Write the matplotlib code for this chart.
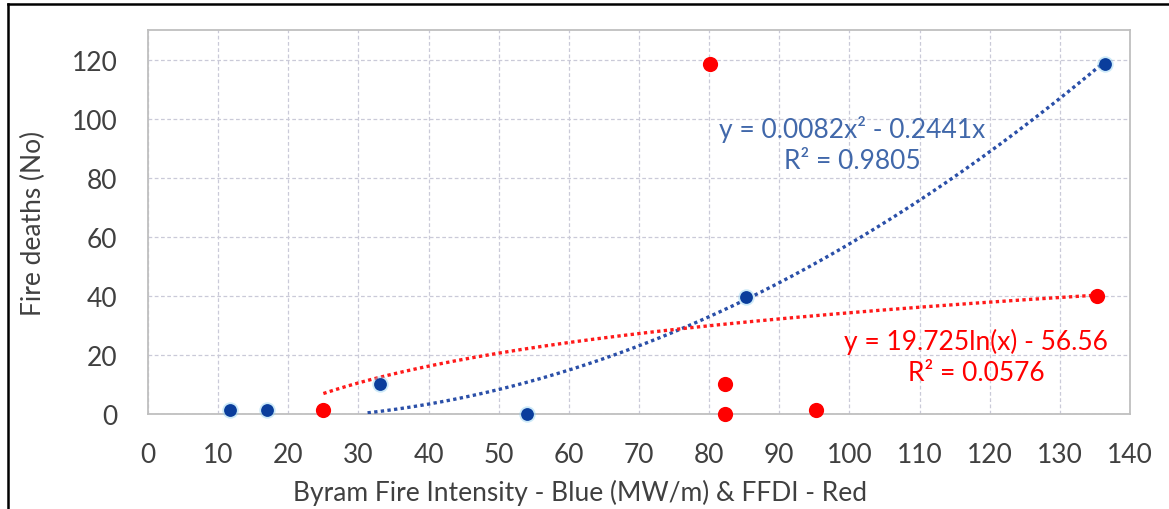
import numpy as np
import matplotlib
matplotlib.use("Agg")
import matplotlib.pyplot as plt
from matplotlib.lines import Line2D

# ---- data ----
blue_x = [11.7, 16.9, 33.1, 54.1, 85.3, 136.4]
blue_y = [1.4, 1.4, 10.2, 0.0, 39.7, 118.6]
red_x = [25.0, 80.1, 82.3, 82.3, 95.3, 135.3]
red_y = [1.4, 118.6, 10.2, 0.0, 1.4, 40.0]

# trendline coefficients as printed on the chart
poly_a, poly_b = 0.0082, -0.2441
log_a, log_b = 19.725, -56.56

blue_eq = "y = 0.0082x² - 0.2441x\nR² = 0.9805"
red_eq = "y = 19.725ln(x) - 56.56\nR² = 0.0576"

x_ticks = list(range(0, 141, 10))
y_ticks = list(range(0, 121, 20))
x_label = "Byram Fire Intensity - Blue (MW/m) & FFDI - Red"
y_label = "Fire deaths (No)"

plt.rcParams['font.family'] = ['Lato', 'DejaVu Sans']
FS = 19

W, H = 1169, 510
fig = plt.figure(figsize=(W / 100, H / 100), dpi=100)
ax = fig.add_axes([148 / W, 1 - 415 / H, (1130 - 148) / W, (415 - 31) / H])

ax.set_xlim(0, 140)
ax.set_ylim(0, 130)
ax.set_xticks(x_ticks)
ax.set_yticks(y_ticks)
ax.tick_params(length=0, labelsize=FS, labelcolor='#404040')
ax.tick_params(axis='x', pad=20)
ax.tick_params(axis='y', pad=22)
ax.grid(True, color='#cacad8', linestyle=(0, (3, 2)), linewidth=0.9)
ax.set_axisbelow(True)
for s in ax.spines.values():
    s.set_color('#bfbfbf')
    s.set_linewidth(1.3)

# trendlines
bx = np.linspace(min(blue_x), max(blue_x), 300)
by = poly_a * bx ** 2 + poly_b * bx
by = np.where(by < 0.3, np.nan, by)
ax.plot(bx, by, color='#2a4fa8',
        linestyle=(0, (1, 1)), linewidth=2.4, zorder=3)
rx = np.linspace(min(red_x), max(red_x), 300)
ax.plot(rx, log_a * np.log(rx) + log_b, color='#ff1a1a',
        linestyle=(0, (1, 1)), linewidth=2.4, zorder=3)

# points
ax.scatter(blue_x, blue_y, s=140, color='#8fd0f0', alpha=0.45, linewidths=0, zorder=4, clip_on=False)
ax.scatter(blue_x, blue_y, s=85, color='#0a3d9c', linewidths=0, zorder=5, clip_on=False)
ax.scatter(red_x, red_y, s=120, color='#ff0000', linewidths=0, zorder=5, clip_on=False)

# equations
fig.text(852 / W, 1 - 145 / H, blue_eq, ha='center', va='center', fontsize=FS,
         color='#4168aa', linespacing=1.3)
fig.text(976 / W, 1 - 357 / H, red_eq, ha='center', va='center', fontsize=FS,
         color='#ff0000', linespacing=1.3)

fig.text(580 / W, 1 - 493 / H, x_label, ha='center', va='center', fontsize=FS, color='#404040')
fig.text(33 / W, 1 - 223 / H, y_label, ha='center', va='center', fontsize=FS,
         color='#404040', rotation=90)

# outer frame remnants (top and left borders)
fig.add_artist(Line2D([8 / W, 1.0], [1 - 4.5 / H, 1 - 4.5 / H], color='black', linewidth=1.8))
fig.add_artist(Line2D([8 / W, 8 / W], [0, 1 - 4.5 / H], color='black', linewidth=1.8))

fig.savefig("out.png", dpi=100)
